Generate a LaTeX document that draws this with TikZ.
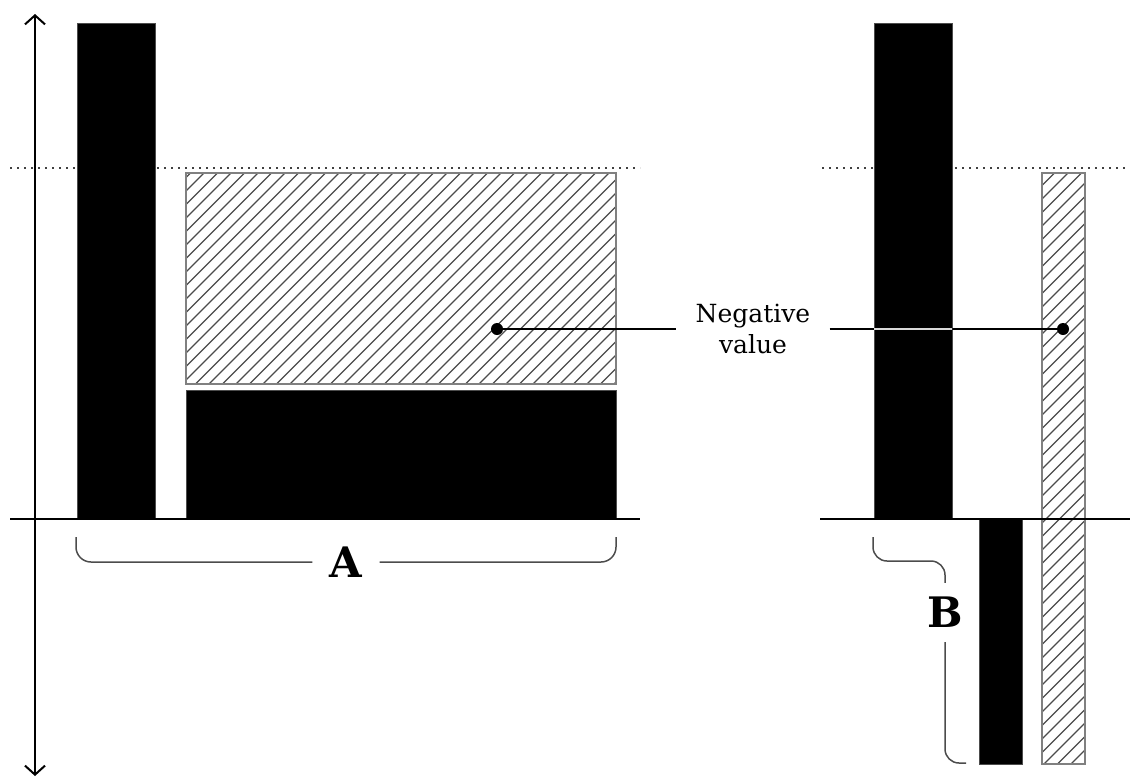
\documentclass[tikz,border=0pt]{standalone}
\usepackage{fontspec}
\setmainfont{DejaVu Serif}
\usetikzlibrary{arrows.meta}

\tikzset{
  solidbar/.style={fill=black, draw=black!70, line width=0.6pt},
  hatchframe/.style={draw=black!50, line width=1.2pt},
  hatchline/.style={black!70, line width=1.2pt},
  axisline/.style={line width=2pt, {Straight Barb[length=9pt,width=20pt,line width=2pt]}-{Straight Barb[length=9pt,width=20pt,line width=2pt]}},
  baseline/.style={line width=2pt},
  refline/.style={line width=1.5pt, black!75, dash pattern=on 2.2pt off 4.8pt},
  bracket/.style={line width=1.5pt, black!70, rounded corners=15pt},
  bracketlabel/.style={font=\fontsize{42}{42}\selectfont\bfseries, inner sep=0pt},
  callout/.style={line width=2pt},
  calloutdot/.style={circle, fill=black, inner sep=0pt, minimum size=12pt},
  callouttext/.style={font=\fontsize{25}{31}\selectfont, align=center, text width=115pt, inner xsep=19pt, inner ysep=0pt}
}

% diagonal hatching inside a rectangle given by its two corners
\newcommand{\hatchbox}[4]{%
  \fill[white] (#1,#2) rectangle (#3,#4);
  \begin{scope}
    \clip (#1,#2) rectangle (#3,#4);
    \foreach \c in {350,363.5,...,1870} {
      \draw[hatchline] (\c,0) -- (0,\c);
    }
  \end{scope}
  \draw[hatchframe] (#1,#2) rectangle (#3,#4);
}

\begin{document}
\begin{tikzpicture}[x=1pt, y=-1pt]
  \useasboundingbox (0,0) rectangle (1130,777);

  % dotted reference level
  \draw[refline] (10,168) -- (640,168);
  \draw[refline] (822,168) -- (1130,168);

  % left group
  \fill[solidbar] (77,23) rectangle (155,519);
  \hatchbox{186}{173}{616}{384}
  \fill[solidbar] (186,390) rectangle (616,519);

  % right group
  \fill[solidbar] (874,23) rectangle (952,519);
  \fill[solidbar] (979,519) rectangle (1022,764);
  \hatchbox{1042}{173}{1085}{764}

  % axes
  \coordinate (axbot) at (35,776);
  \coordinate (axtop) at (35,14);
  \draw[axisline] (axbot) -- (axtop);
  \draw[baseline] (10,519) -- (640,519);
  \draw[baseline] (820,519) -- (1130,519);

  % callout
  \node[callouttext] (neg) at (753,329) {Negative\\value};
  \node[calloutdot] (dotL) at (497,329) {};
  \node[calloutdot] (dotR) at (1063,329) {};
  \draw[callout] (dotL.center) -- (neg.west);
  \draw[callout] (neg.east) -- (dotR.center);
  \begin{scope}
    \clip (874,23) rectangle (952,519);
    \draw[line width=1.6pt, black!15] (neg.east) -- (dotR.center);
  \end{scope}

  % bracket A
  \node[bracketlabel, minimum width=67pt] (labA) at (346,562) {A};
  \coordinate (bAl) at (76,537);
  \coordinate (bAr) at (616,537);
  \draw[bracket] (bAl) |- (labA.west);
  \draw[bracket] (labA.east) -| (bAr);

  % bracket B
  \node[bracketlabel, minimum height=59pt] (labB) at (945,612.5) {B};
  \coordinate (bBt) at (873,537);
  \coordinate (bBb) at (966,763);
  \draw[bracket, rounded corners=14pt] (bBt) |- (945,561) -- (labB.north);
  \draw[bracket, rounded corners=14pt] (labB.south) |- (bBb);
\end{tikzpicture}
\end{document}
